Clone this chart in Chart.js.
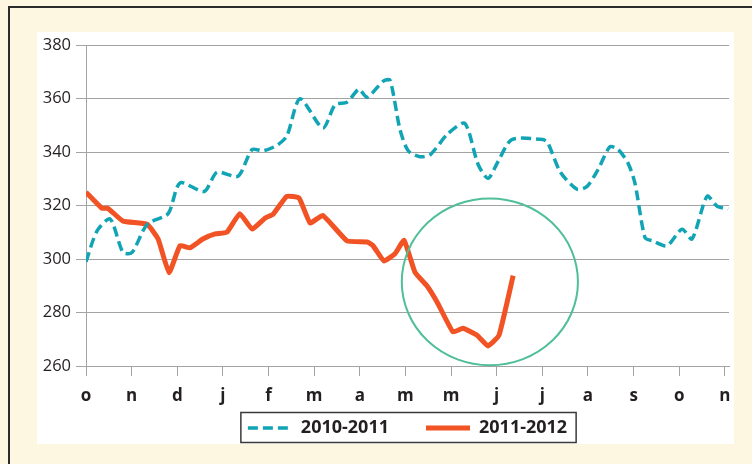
<!DOCTYPE html>
<html>
<head>
<meta charset="utf-8">
<script src="https://cdn.jsdelivr.net/npm/chart.js@4.4.1/dist/chart.umd.min.js"></script>
<style>
  html, body { margin: 0; padding: 0; }
  body { width: 752px; height: 464px; background: #fdf6e1; position: relative; overflow: hidden; }
  #frame { position: absolute; left: 8px; top: 6px; width: 800px; height: 500px;
           border-left: 2px solid #2b2b2b; border-top: 2px solid #2b2b2b; }
  #panel { position: absolute; left: 37px; top: 32px; width: 697px; height: 412px; background: #fff; }
  #myChart { position: absolute; left: 0; top: 0; }
</style>
</head>
<body>
<div id="frame"></div>
<div id="panel"><canvas id="myChart" width="697" height="415"></canvas></div>
<script>
// month ticks along the x axis (one per month, starting in october)
var monthLabels = ['o', 'n', 'd', 'j', 'f', 'm', 'a', 'm', 'm', 'j', 'j', 'a', 's', 'o', 'n'];
var yTicks = [260, 280, 300, 320, 340, 360, 380];

// 2010-2011 : position in months since start, value
var pos1011 = [0, 0.24, 0.53, 0.81, 1.01, 1.34, 1.80, 2.06, 2.59, 2.87, 3.33, 3.64, 3.88, 4.18, 4.40,
  4.69, 5.19, 5.46, 5.72, 5.98, 6.16, 6.51, 6.66, 6.88, 7.06, 7.32, 7.54, 7.93, 8.30, 8.59, 8.81,
  9.03, 9.33, 10.01, 10.12, 10.39, 10.76, 10.98, 11.22, 11.48, 11.66, 11.88, 12.03, 12.25, 12.42,
  12.73, 13.06, 13.28, 13.61, 13.83, 14.07];
var val1011 = [299, 310.5, 315, 302.5, 302.5, 313, 317, 328.5, 325.3, 332.5, 331, 341, 340.5, 342.5, 346,
  360, 349, 357.8, 358.7, 363.5, 360.5, 366.5, 367, 348.5, 340.5, 338.3, 339, 346.9, 350.8, 335.5, 330.2,
  336.5, 344.7, 344.7, 343.5, 332.7, 326.1, 327.2, 333.5, 342, 341, 335.8, 328.3, 308, 306.8,
  305, 311.2, 307.5, 323.5, 319.8, 318.7];

// 2011-2012
var pos1112 = [0, 0.35, 0.48, 0.81, 1.34, 1.58, 1.82, 2.06, 2.28, 2.56, 2.83, 3.09, 3.37, 3.64, 3.92,
  4.10, 4.40, 4.67, 4.91, 5.19, 5.72, 6.16, 6.29, 6.53, 6.77, 6.97, 7.21, 7.47, 7.71, 8.04, 8.26,
  8.57, 8.81, 9.05, 9.36];
var val1112 = [325, 319, 319, 314.2, 313, 307.5, 294.9, 305, 304.2, 307.5, 309.4, 310.1, 317, 311.2, 315.3,
  316.8, 323.5, 322.8, 313.5, 316.3, 306.8, 306.4, 305, 299.3, 302, 307, 295, 290, 283.4, 272.8, 274.1,
  271.5, 267.5, 271.5, 293.8];

// highlight ring around the 2012 dip (data units)
var ring = { x: 8.85, y: 291.5, rx: 1.93, ry: 31.2 };

function toPoints(xs, ys) {
  return xs.map(function (x, i) { return { x: x, y: ys[i] }; });
}

var ringPlugin = {
  id: 'ring',
  afterDatasetsDraw: function (chart) {
    var sx = chart.scales.x, sy = chart.scales.y, c = chart.ctx;
    var cx = sx.getPixelForValue(ring.x), cy = sy.getPixelForValue(ring.y);
    var rx = sx.getPixelForValue(ring.x + ring.rx) - cx;
    var ry = cy - sy.getPixelForValue(ring.y + ring.ry);
    c.save();
    c.beginPath();
    c.ellipse(cx, cy, rx, ry, 0, 0, Math.PI * 2);
    c.strokeStyle = '#50bf98';
    c.lineWidth = 2;
    c.stroke();
    c.restore();
  }
};

var legendFramePlugin = {
  id: 'legendFrame',
  afterDraw: function (chart) {
    var boxes = chart.legend.legendHitBoxes;
    if (!boxes || !boxes.length) return;
    var first = boxes[0], last = boxes[boxes.length - 1];
    var c = chart.ctx;
    c.save();
    c.strokeStyle = '#3a3a3a';
    c.lineWidth = 1.5;
    c.strokeRect(first.left - 7, first.top - 6.5, last.left + last.width + 9 - (first.left - 7), first.height + 12);
    c.restore();
  }
};

var ctx = document.getElementById('myChart').getContext('2d');

var myChart = new Chart(ctx, {
  type: 'line',
  data: {
    datasets: [{
      label: '2010-2011\u2002\u2002\u2002',
      data: toPoints(pos1011, val1011),
      borderColor: '#11a4b4',
      backgroundColor: '#11a4b4',
      borderWidth: 3.5,
      borderDash: [10, 5],
      pointRadius: 0,
      tension: 0.25,
      fill: false
    }, {
      label: '2011-2012',
      data: toPoints(pos1112, val1112),
      borderColor: '#f15324',
      backgroundColor: '#f15324',
      borderWidth: 5,
      pointRadius: 0,
      tension: 0.12,
      fill: false
    }]
  },
  options: {
    responsive: false,
    animation: false,
    layout: { padding: { top: 10, right: 5, left: 0, bottom: 0 } },
    plugins: {
      tooltip: { enabled: false },
      legend: {
        display: true,
        position: 'bottom',
        fullSize: false,
        labels: {
          usePointStyle: true,
          pointStyle: 'line',
          pointStyleWidth: 44,
          padding: 10,
          color: '#231f20',
          font: { family: 'Open Sans', size: 18, weight: 'bold' },
          generateLabels: function (chart) {
            var items = Chart.defaults.plugins.legend.labels.generateLabels(chart);
            items.forEach(function (item) {
              var ds = chart.data.datasets[item.datasetIndex];
              item.lineDash = ds.borderDash || [];
              item.lineWidth = ds.borderWidth;
              item.strokeStyle = ds.borderColor;
              item.lineCap = 'butt';
            });
            return items;
          }
        }
      }
    },
    scales: {
      x: {
        type: 'linear',
        min: 0,
        max: 14.09,
        afterBuildTicks: function (scale) {
          scale.ticks = monthLabels.map(function (_, i) { return { value: i }; });
        },
        afterFit: function (scale) { scale.height = 43; },
        grid: { drawOnChartArea: false, drawTicks: true, tickLength: 10, color: '#a3a3a3' },
        border: { color: '#a3a3a3' },
        ticks: {
          autoSkip: false,
          maxRotation: 0,
          padding: 0,
          color: '#231f20',
          font: { family: 'Open Sans', size: 17, weight: 'bold', lineHeight: 2.35 },
          callback: function (v) { return monthLabels[v]; }
        }
      },
      y: {
        min: 260,
        max: 380,
        afterBuildTicks: function (scale) {
          scale.ticks = yTicks.map(function (v) { return { value: v }; });
        },
        afterFit: function (scale) { scale.width = 49; },
        grid: { color: '#a3a3a3', tickLength: 10 },
        border: { color: '#a3a3a3' },
        ticks: {
          padding: 5,
          color: '#231f20',
          font: { family: 'Open Sans', size: 16.5, lineHeight: 1 }
        }
      }
    }
  },
  plugins: [ringPlugin, legendFramePlugin]
});
</script>
</body>
</html>
